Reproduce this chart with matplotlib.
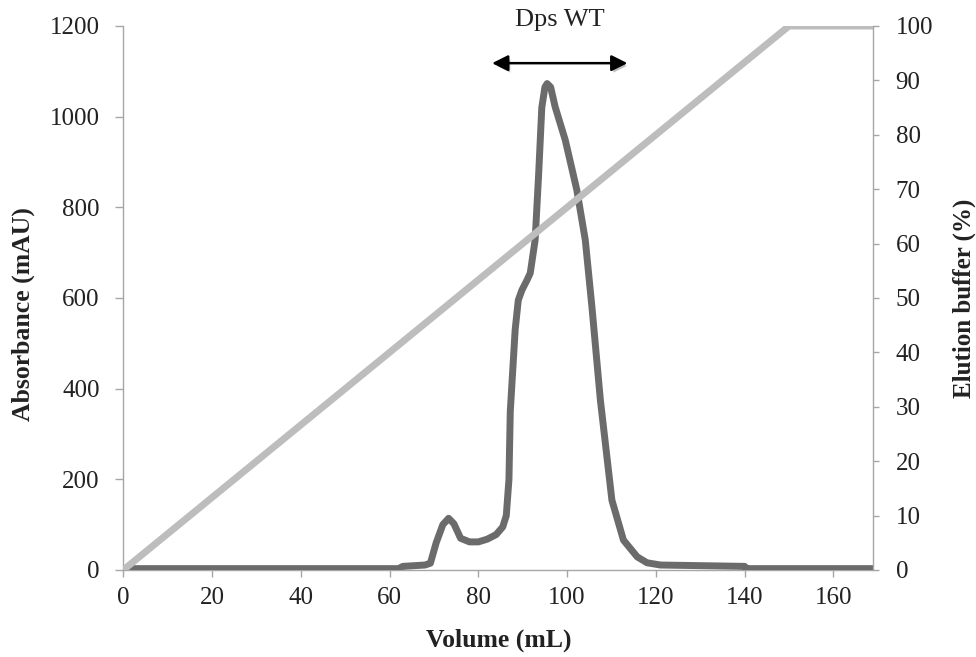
import matplotlib
matplotlib.use("Agg")
import matplotlib.pyplot as plt
import matplotlib.patheffects as pe

# ---- data ----
volume_ml = [0, 62, 63, 68, 69.2, 70.5, 72, 73.3, 74.5, 76, 78, 80, 82, 84,
             85.5, 86.3, 86.9, 87.2, 88.3, 89.0, 89.8, 91.0, 91.7, 92.8,
             93.6, 94.3, 95.0, 95.5, 96.3, 97.3, 99.6, 102.2, 104.1, 105.6,
             107.5, 110.1, 112.7, 115.8, 118, 121, 140, 140.5, 169]
absorbance_mau = [3, 3, 8, 11, 15, 60, 100, 114, 102, 70, 62, 62, 68, 78,
                  95, 120, 200, 350, 530, 595, 617, 640, 655, 728,
                  875, 1020, 1065, 1073, 1065, 1022, 948, 838, 728, 580,
                  375, 154, 66, 29, 16, 11, 8, 3, 3]

elution_volume_ml = [0, 150, 169]
elution_buffer_pct = [0, 100, 100]

x_ticks = [0, 20, 40, 60, 80, 100, 120, 140, 160]
abs_ticks = [0, 200, 400, 600, 800, 1000, 1200]
buf_ticks = [0, 10, 20, 30, 40, 50, 60, 70, 80, 90, 100]

annot_label = "Dps WT"
annot_range = (83.1, 113.6)   # volume range covered by the arrow
annot_level = 1118            # absorbance level of the arrow

# ---- style ----
plt.rcParams['font.family'] = ['Liberation Serif', 'DejaVu Serif']
spine_col = '#a6a6a6'
text_col = '#222222'

fig = plt.figure(figsize=(9.76, 6.57), dpi=100)
ax = fig.add_axes([123.3 / 976, 1 - 570 / 657, 750 / 976, 544 / 657])
ax2 = ax.twinx()

ax.plot(volume_ml, absorbance_mau, color='#6b6b6b', lw=5.0,
        solid_joinstyle='round', solid_capstyle='butt', zorder=3)
ax2.plot(elution_volume_ml, elution_buffer_pct, color='#bdbdbd', lw=5.0,
         solid_joinstyle='round', solid_capstyle='butt', zorder=3)

ax.set_xlim(0, 169)
ax.set_ylim(0, 1200)
ax2.set_ylim(0, 100)
ax.set_xticks(x_ticks)
ax.set_yticks(abs_ticks)
ax2.set_yticks(buf_ticks)

for a in (ax, ax2):
    a.spines['top'].set_visible(False)
    for s in ('left', 'right', 'bottom'):
        a.spines[s].set_color(spine_col)
        a.spines[s].set_linewidth(1.0)
    a.set_facecolor('none')

ax.spines['right'].set_visible(False)
ax2.spines['left'].set_visible(False)
ax2.spines['bottom'].set_visible(False)

ax.tick_params(axis='y', direction='out', length=6, width=1, color=spine_col,
               labelsize=18, labelcolor=text_col, pad=11)
ax.tick_params(axis='x', direction='out', length=5, width=1, color=spine_col,
               labelsize=18, labelcolor=text_col, pad=7)
ax2.tick_params(axis='y', direction='out', length=4, width=1, color=spine_col,
                labelsize=18, labelcolor=text_col, pad=12)

ax.set_xlabel("Volume (mL)", fontsize=18.5, fontweight='bold', color=text_col,
              va='center')
ax.xaxis.set_label_coords(0.501, -0.1287)
ax.set_ylabel("Absorbance (mAU)", fontsize=18.5, fontweight='bold',
              color=text_col, va='center')
ax.yaxis.set_label_coords(-0.134, 0.47)
ax2.set_ylabel("Elution buffer (%)", fontsize=18, fontweight='bold',
               color=text_col, va='center', rotation=90)
ax2.yaxis.set_label_coords(1.121, 0.5)

# annotation arrow with label
arr = ax.annotate('', xy=(annot_range[0], annot_level),
                  xytext=(annot_range[1], annot_level),
                  xycoords='data', textcoords='data', annotation_clip=False,
                  arrowprops=dict(arrowstyle='<|-|>', color='black', lw=1.8,
                                  mutation_scale=24, shrinkA=0, shrinkB=0))
arr.arrow_patch.set_path_effects([
    pe.SimplePatchShadow(offset=(1.5, -2), alpha=0.25),
    pe.Normal()])
ax.text(sum(annot_range) / 2, 1213, annot_label, ha='center', va='center',
        fontsize=19, color=text_col, clip_on=False)

fig.savefig('out.png', dpi=100)
